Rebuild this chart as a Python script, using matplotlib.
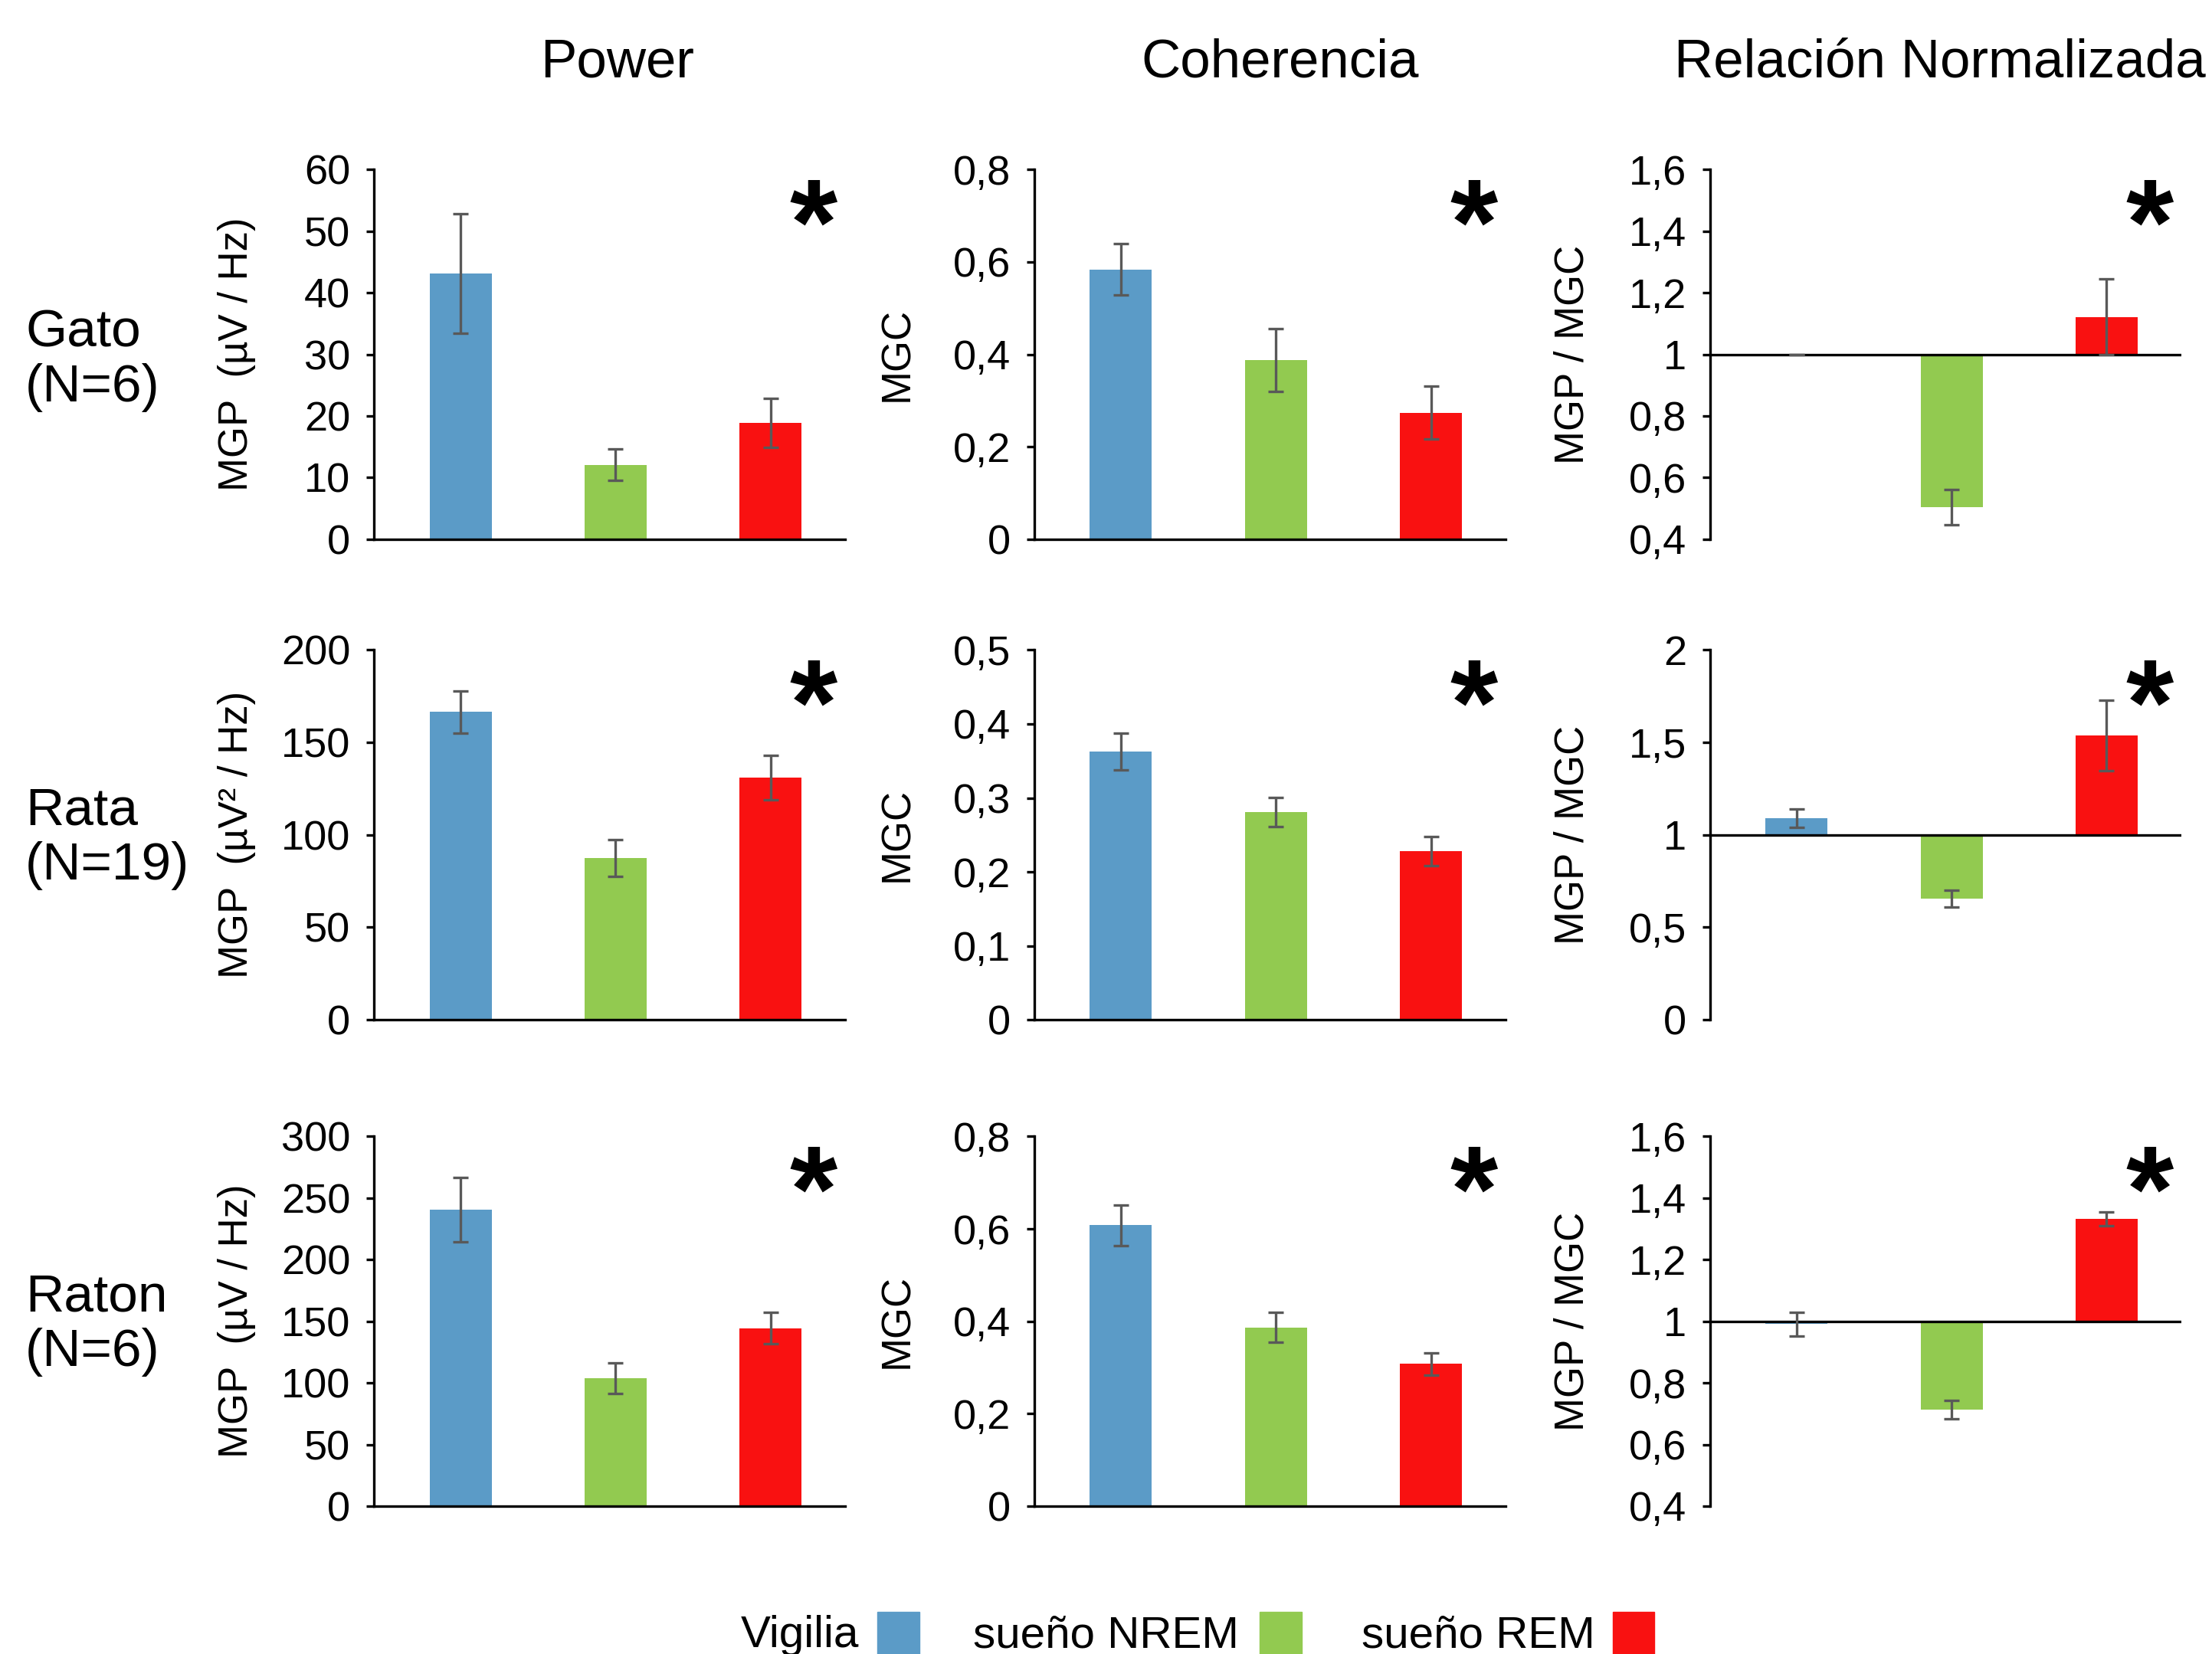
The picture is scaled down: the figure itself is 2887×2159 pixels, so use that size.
import numpy as np
import matplotlib
matplotlib.use("Agg")
import matplotlib.pyplot as plt
from matplotlib.patches import Rectangle

# data
conditions = ["Vigilia", "sueño NREM", "sueño REM"]
colors = ["#5B9BC7", "#92CA50", "#F91111"]
species = ["Gato\n(N=6)", "Rata\n(N=19)", "Raton\n(N=6)"]
col_titles = ["Power", "Coherencia", "Relación Normalizada"]

power_mean = [[43.1, 12.1, 18.9], [166.5, 87.5, 131.0], [240.5, 104.0, 144.5]]
power_err = [[9.7, 2.6, 4.0], [11.5, 9.8, 12.2], [26.0, 12.5, 13.0]]
coh_mean = [[0.584, 0.387, 0.274], [0.363, 0.281, 0.228], [0.608, 0.387, 0.308]]
coh_err = [[0.056, 0.068, 0.057], [0.025, 0.02, 0.02], [0.044, 0.033, 0.024]]
ratio_mean = [[1.0, 0.503, 1.122], [1.09, 0.655, 1.537], [0.991, 0.713, 1.333]]
ratio_err = [[0.0, 0.057, 0.123], [0.05, 0.045, 0.19], [0.038, 0.03, 0.022]]

power_ylabels = ["MGP  (µV / Hz)", "MGP  (µV² / Hz)", "MGP  (µV / Hz)"]
power_ticks = [[0, 10, 20, 30, 40, 50, 60], [0, 50, 100, 150, 200], [0, 50, 100, 150, 200, 250, 300]]
power_ticklabels = [["0", "10", "20", "30", "40", "50", "60"],
                    ["0", "50", "100", "150", "200"],
                    ["0", "50", "100", "150", "200", "250", "300"]]
coh_ticks = [[0, 0.2, 0.4, 0.6, 0.8], [0, 0.1, 0.2, 0.3, 0.4, 0.5], [0, 0.2, 0.4, 0.6, 0.8]]
coh_ticklabels = [["0", "0,2", "0,4", "0,6", "0,8"],
                  ["0", "0,1", "0,2", "0,3", "0,4", "0,5"],
                  ["0", "0,2", "0,4", "0,6", "0,8"]]
ratio_ticks = [[0.4, 0.6, 0.8, 1, 1.2, 1.4, 1.6], [0, 0.5, 1, 1.5, 2], [0.4, 0.6, 0.8, 1, 1.2, 1.4, 1.6]]
ratio_ticklabels = [["0,4", "0,6", "0,8", "1", "1,2", "1,4", "1,6"],
                    ["0", "0,5", "1", "1,5", "2"],
                    ["0,4", "0,6", "0,8", "1", "1,2", "1,4", "1,6"]]

plt.rcParams["font.family"] = ["Liberation Sans", "DejaVu Sans"]

fig = plt.figure(figsize=(28.87, 21.59), dpi=100)

lefts = [0.169, 0.4675, 0.773]
bottoms = [0.674, 0.3835, 0.0894]
w, h = 0.213, 0.2235


def panel(ax, means, errs, ticks, ticklabels, ylabel, ratio=False):
    x = np.arange(3)
    means = np.array(means)
    if ratio:
        ax.bar(x, means - 1, bottom=1, width=0.4, color=colors, zorder=2)
        ax.axhline(1, color="black", lw=2.4, zorder=3)
    else:
        ax.bar(x, means, width=0.4, color=colors, zorder=2)
    ax.errorbar(x, means, yerr=errs, fmt="none", ecolor="#595959",
                elinewidth=2.4, capsize=7, capthick=2.4, zorder=4)
    ax.set_xlim(-0.56, 2.48)
    ax.set_ylim(ticks[0], ticks[-1])
    ax.set_yticks(ticks)
    ax.set_yticklabels(ticklabels, fontsize=39)
    ax.set_xticks([])
    for s in ["top", "right"]:
        ax.spines[s].set_visible(False)
    if ratio:
        ax.spines["bottom"].set_visible(False)
    else:
        ax.spines["bottom"].set_linewidth(2.4)
    ax.spines["left"].set_linewidth(2.4)
    ax.tick_params(axis="y", direction="out", length=7, width=2.4, pad=15)
    ax.set_ylabel(ylabel, fontsize=38)
    ax.yaxis.set_label_coords(-0.25, 0.5)
    ax.text(0.933, 0.83, "*", transform=ax.transAxes, ha="center", va="center",
            fontsize=115, fontweight="bold")


for r in range(3):
    ax = fig.add_axes([lefts[0], bottoms[r], w, h])
    panel(ax, power_mean[r], power_err[r], power_ticks[r], power_ticklabels[r], power_ylabels[r])
    ax = fig.add_axes([lefts[1], bottoms[r], w, h])
    panel(ax, coh_mean[r], coh_err[r], coh_ticks[r], coh_ticklabels[r], "MGC")
    ax = fig.add_axes([lefts[2], bottoms[r], w, h])
    panel(ax, ratio_mean[r], ratio_err[r], ratio_ticks[r], ratio_ticklabels[r], "MGP / MGC", ratio=True)

# column titles
for cx, t in zip([0.279, 0.5785, 0.877], col_titles):
    fig.text(cx, 0.9616, t, ha="center", va="center", fontsize=51)

# row labels
for cy, s in zip([0.782, 0.493, 0.199], species):
    fig.text(0.0115, cy, s, ha="left", va="center", fontsize=50, linespacing=1.15)

# legend: text then colour square
text_x = [0.335, 0.44, 0.6155]
sq_x = [0.3965, 0.5695, 0.729]
for tx, sx, lab, c in zip(text_x, sq_x, conditions, colors):
    fig.text(tx, 0.004, lab, ha="left", va="baseline", fontsize=42)
    fig.add_artist(Rectangle((sx, -0.01), 0.019, 0.0355, transform=fig.transFigure,
                             color=c, clip_on=False))

fig.savefig("out.png", dpi=100)
